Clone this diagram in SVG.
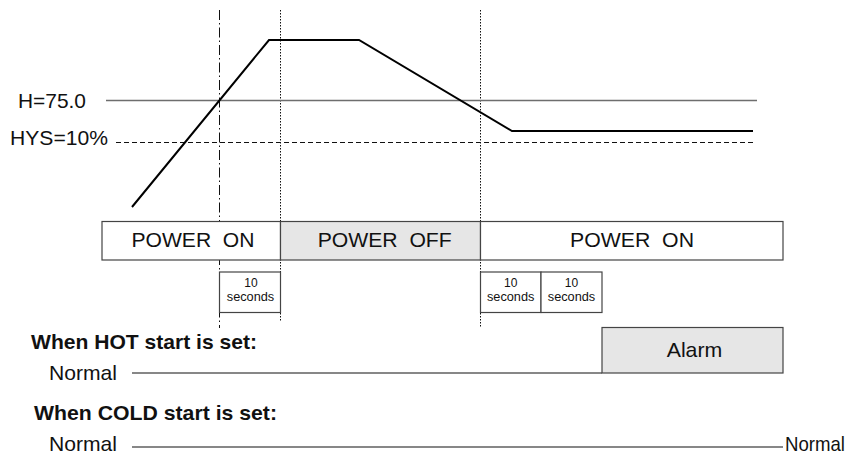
<svg xmlns="http://www.w3.org/2000/svg" width="850" height="459" viewBox="0 0 850 459">
<style>
text{font-family:"Liberation Sans",Arial,sans-serif;fill:#111}
.lbl{font-size:21px}
.bar{font-size:21px}
.sm{font-size:12px}
.bold{font-size:21px;font-weight:bold}
.nrm{font-size:21px}
.box{stroke:#444;stroke-width:1.2}
.white{fill:#fff}
.grey{fill:#e6e6e6}
.dashdot{stroke:#111;stroke-width:1;stroke-dasharray:10 3 1.5 3;fill:none}
.dot{stroke:#111;stroke-width:1;stroke-dasharray:1.5 1.5;fill:none}
</style>
<rect width="850" height="459" fill="#fff"/>
<g id="guides">
<line class="dashdot" x1="219.5" y1="10" x2="219.5" y2="328"/>
<line class="dot" x1="280.5" y1="10" x2="280.5" y2="321"/>
<line class="dot" x1="480.5" y1="10" x2="480.5" y2="328"/>
</g>
<g id="thresholds">
<line x1="106" y1="100.5" x2="757" y2="100.5" stroke="#6e6e6e" stroke-width="1.4"/>
<line x1="116" y1="142.5" x2="755" y2="142.5" stroke="#111" stroke-width="1" stroke-dasharray="5 3"/>
<text class="lbl" x="18" y="108" textLength="68" lengthAdjust="spacingAndGlyphs">H=75.0</text>
<text class="lbl" x="10" y="145" textLength="98" lengthAdjust="spacingAndGlyphs">HYS=10%</text>
</g>
<g id="curve">
<polyline points="132,207 269,40 359,40 512,131 753,131" fill="none" stroke="#000" stroke-width="2" stroke-linejoin="miter"/>
</g>
<g id="power-on-1">
<rect class="box white" x="102" y="221.5" width="178.5" height="38.5"/>
<text class="bar" x="131.5" y="247" textLength="123" lengthAdjust="spacingAndGlyphs" xml:space="preserve">POWER  ON</text>
</g>
<g id="power-off">
<rect class="box grey" x="280.5" y="221.5" width="200" height="38.5"/>
<text class="bar" x="317.7" y="247" textLength="134" lengthAdjust="spacingAndGlyphs" xml:space="preserve">POWER  OFF</text>
</g>
<g id="power-on-2">
<rect class="box white" x="480.5" y="221.5" width="302.5" height="38.5"/>
<text class="bar" x="570" y="247" textLength="124" lengthAdjust="spacingAndGlyphs" xml:space="preserve">POWER  ON</text>
</g>
<g id="delay-1">
<rect class="box white" x="219.5" y="272" width="61" height="40.5"/>
<text class="sm" x="251" y="287" text-anchor="middle">10</text>
<text class="sm" x="250.5" y="300.5" text-anchor="middle" textLength="47.5" lengthAdjust="spacingAndGlyphs">seconds</text>
</g>
<g id="delay-2">
<rect class="box white" x="480.5" y="272" width="60.5" height="40.5"/>
<text class="sm" x="510.7" y="287" text-anchor="middle">10</text>
<text class="sm" x="510.7" y="300.5" text-anchor="middle" textLength="47.5" lengthAdjust="spacingAndGlyphs">seconds</text>
</g>
<g id="delay-3">
<rect class="box white" x="541" y="272" width="61" height="40.5"/>
<text class="sm" x="571.5" y="287" text-anchor="middle">10</text>
<text class="sm" x="571.5" y="300.5" text-anchor="middle" textLength="47.5" lengthAdjust="spacingAndGlyphs">seconds</text>
</g>
<g id="hot-start">
<text class="bold" x="31" y="348.5" textLength="226" lengthAdjust="spacingAndGlyphs">When HOT start is set:</text>
<text class="nrm" x="49" y="380" textLength="68" lengthAdjust="spacingAndGlyphs">Normal</text>
<line x1="132" y1="373" x2="602" y2="373" stroke="#111" stroke-width="1.2"/>
</g>
<g id="alarm">
<rect class="box grey" x="602" y="327.5" width="181" height="45.5"/>
<text class="lbl" x="666.7" y="357" textLength="55.6" lengthAdjust="spacingAndGlyphs">Alarm</text>
</g>
<g id="cold-start">
<text class="bold" x="34" y="420" textLength="243" lengthAdjust="spacingAndGlyphs">When COLD start is set:</text>
<text class="nrm" x="49" y="451" textLength="68" lengthAdjust="spacingAndGlyphs">Normal</text>
<line x1="132" y1="447" x2="783" y2="447" stroke="#111" stroke-width="1.2"/>
<text class="nrm" x="785" y="451" font-size="20" textLength="60" lengthAdjust="spacingAndGlyphs">Normal</text>
</g>
</svg>
